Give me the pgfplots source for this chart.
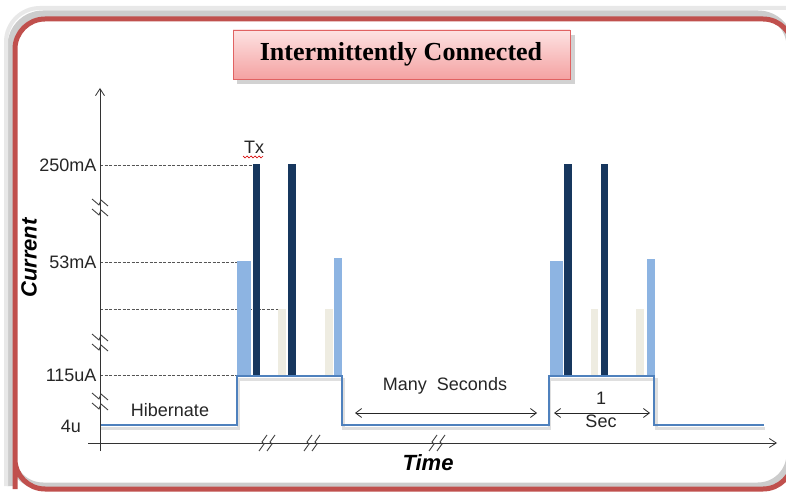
\documentclass[border=0pt]{standalone}
\usepackage{fontspec}
\setmainfont{Liberation Sans}
\newfontfamily\titlefont{Liberation Serif}
\usepackage{pgfplots}
\pgfplotsset{compat=1.18}
\usetikzlibrary{arrows.meta}
\definecolor{framered}{HTML}{C0504D}
\definecolor{stepblue}{HTML}{4F81BD}
\definecolor{lb}{HTML}{8DB4E2}
\definecolor{navy}{HTML}{17375E}
\definecolor{pale}{HTML}{EEECE1}
\definecolor{ttop}{HTML}{FDE2E2}
\definecolor{tbot}{HTML}{F4A2A2}
\definecolor{tborder}{HTML}{E06262}
\definecolor{dashc}{HTML}{555555}
\begin{document}
\begin{tikzpicture}
\begin{axis}[x=1bp, y=1bp, y dir=reverse, xmin=0, xmax=786, ymin=0, ymax=493,
  hide axis, clip=true]
% background
\addplot[fill=white, draw=none] coordinates {(0,0)(786,0)(786,493)(0,493)};
% frame shadow
\addplot[draw=gray!40, line width=7bp, rounded corners=32bp] coordinates {(11,486)(11,14)(790,14)(790,486)(11,486)(11,300)};
\addplot[draw=gray!18, line width=4bp, rounded corners=34bp] coordinates {(6,486)(6,8)(790,8)};
% frame
\addplot[draw=framered, line width=5bp, rounded corners=30bp] coordinates {(15,489)(15,19)(793,19)(793,489)(15,489)(15,300)};
% title box shadow and box
\addplot[fill=gray!35, draw=none] coordinates {(237,35)(575,35)(575,84)(237,84)};
\addplot[draw=tborder, line width=0.8bp, top color=ttop, bottom color=tbot] coordinates {(233,30)(570,30)(570,79)(233,79)(233,30)};
\node[font=\titlefont\bfseries\fontsize{26bp}{30bp}\selectfont] at (axis cs:401,54) {Intermittently Connected};
% dashed guide lines
\addplot[dashc, line width=0.9bp, dash pattern=on 3bp off 1.5bp] coordinates {(100,165)(252,165)};
\addplot[dashc, line width=0.9bp, dash pattern=on 3bp off 1.5bp] coordinates {(100,262)(237,262)};
\addplot[dashc, line width=0.9bp, dash pattern=on 3bp off 1.5bp] coordinates {(100,309)(278,309)};
\addplot[dashc, line width=0.9bp, dash pattern=on 3bp off 1.5bp] coordinates {(100,375)(237,375)};
% bars group 1
\addplot[fill=lb, draw=none] coordinates {(237,376)(237,261)(251,261)(251,376)};
\addplot[fill=navy, draw=none] coordinates {(253,376)(253,164)(260,164)(260,376)};
\addplot[fill=pale, draw=none] coordinates {(278,376)(278,309)(286,309)(286,376)};
\addplot[fill=navy, draw=none] coordinates {(288,376)(288,164)(296,164)(296,376)};
\addplot[fill=pale, draw=none] coordinates {(325,376)(325,309)(333,309)(333,376)};
\addplot[fill=lb, draw=none] coordinates {(334,376)(334,258)(342,258)(342,376)};
% bars group 2
\addplot[fill=lb, draw=none] coordinates {(550,376)(550,261)(563,261)(563,376)};
\addplot[fill=navy, draw=none] coordinates {(564,376)(564,164)(572,164)(572,376)};
\addplot[fill=pale, draw=none] coordinates {(591,376)(591,309)(598,309)(598,376)};
\addplot[fill=navy, draw=none] coordinates {(601,376)(601,164)(608,164)(608,376)};
\addplot[fill=pale, draw=none] coordinates {(636,376)(636,309)(644,309)(644,376)};
\addplot[fill=lb, draw=none] coordinates {(647,376)(647,259)(655,259)(655,376)};
% step line shadow and line
\addplot[gray!25, line width=3bp] coordinates {(101,428)(238,428)(238,379)(343,379)(343,428)(549,428)(549,379)(656,379)(656,428)(765,428)};
\addplot[stepblue, line width=2.8bp] coordinates {(100,425)(237,425)(237,376)(342,376)(342,425)(549,425)(549,376)(654,376)(654,425)(764,425)};
% axes
\addplot[black!80, line width=0.8bp, -{Straight Barb[length=7bp, width=9bp]}] coordinates {(100,451)(100,88)};
\addplot[black!80, line width=0.8bp, -{Straight Barb[length=7bp, width=9bp]}] coordinates {(88,443)(777,443)};
% y axis breaks
\addplot[black!75, line width=0.9bp] coordinates {(92,199)(99,205)(101,200)(108,206)};
\addplot[black!75, line width=0.9bp] coordinates {(92,209)(99,215)(101,210)(108,216)};
\addplot[black!75, line width=0.9bp] coordinates {(92,334)(99,340)(101,335)(108,341)};
\addplot[black!75, line width=0.9bp] coordinates {(92,344)(99,350)(101,345)(108,351)};
\addplot[black!75, line width=0.9bp] coordinates {(92,393)(99,399)(101,394)(108,400)};
\addplot[black!75, line width=0.9bp] coordinates {(92,403)(99,409)(101,404)(108,410)};
% x axis breaks
\addplot[black!75, line width=0.9bp] coordinates {(259,451)(264,444)(262,442)(267,435)};
\addplot[black!75, line width=0.9bp] coordinates {(267,451)(272,444)(270,442)(275,435)};
\addplot[black!75, line width=0.9bp] coordinates {(304,451)(309,444)(307,442)(312,435)};
\addplot[black!75, line width=0.9bp] coordinates {(312,451)(317,444)(315,442)(320,435)};
\addplot[black!75, line width=0.9bp] coordinates {(429,451)(434,444)(432,442)(437,435)};
\addplot[black!75, line width=0.9bp] coordinates {(437,451)(442,444)(440,442)(445,435)};
% double arrows
\addplot[black!85, line width=0.8bp, {Straight Barb[length=6bp, width=9bp]}-{Straight Barb[length=6bp, width=9bp]}] coordinates {(355,413)(537,413)};
\addplot[black!85, line width=0.8bp, {Straight Barb[length=6bp, width=9bp]}-{Straight Barb[length=6bp, width=9bp]}] coordinates {(554,413)(650,413)};
% Tx squiggle
\addplot[red!85!black, line width=0.7bp] coordinates {(243,156)(245,158)(247,156)(249,158)(251,156)(253,158)(255,156)(257,158)(259,156)(261,158)(263,156)};
% labels
\node[anchor=east, font=\fontsize{18bp}{21bp}\selectfont, text=black!85] at (axis cs:100,165) {250mA};
\node[anchor=east, font=\fontsize{18bp}{21bp}\selectfont, text=black!85] at (axis cs:100,262) {53mA};
\node[anchor=east, font=\fontsize{18bp}{21bp}\selectfont, text=black!85] at (axis cs:100,375) {115uA};
\node[font=\fontsize{18bp}{21bp}\selectfont, text=black!85] at (axis cs:71,426) {4u};
\node[font=\fontsize{18bp}{21bp}\selectfont, text=black!85] at (axis cs:254,147) {Tx};
\node[font=\fontsize{18bp}{21bp}\selectfont, text=black!85] at (axis cs:170,410) {Hibernate};
\node[font=\fontsize{18bp}{21bp}\selectfont, text=black!85] at (axis cs:445,386) {Many\ \ Seconds};
\node[font=\fontsize{18bp}{21bp}\selectfont, text=black!85] at (axis cs:601,398) {1};
\node[font=\fontsize{18bp}{21bp}\selectfont, text=black!85] at (axis cs:601,421) {Sec};
\node[rotate=90, font=\bfseries\itshape\fontsize{22bp}{26bp}\selectfont] at (axis cs:29,258) {Current};
\node[font=\bfseries\itshape\fontsize{22bp}{26bp}\selectfont] at (axis cs:428,463) {Time};
\end{axis}
\end{tikzpicture}
\end{document}
